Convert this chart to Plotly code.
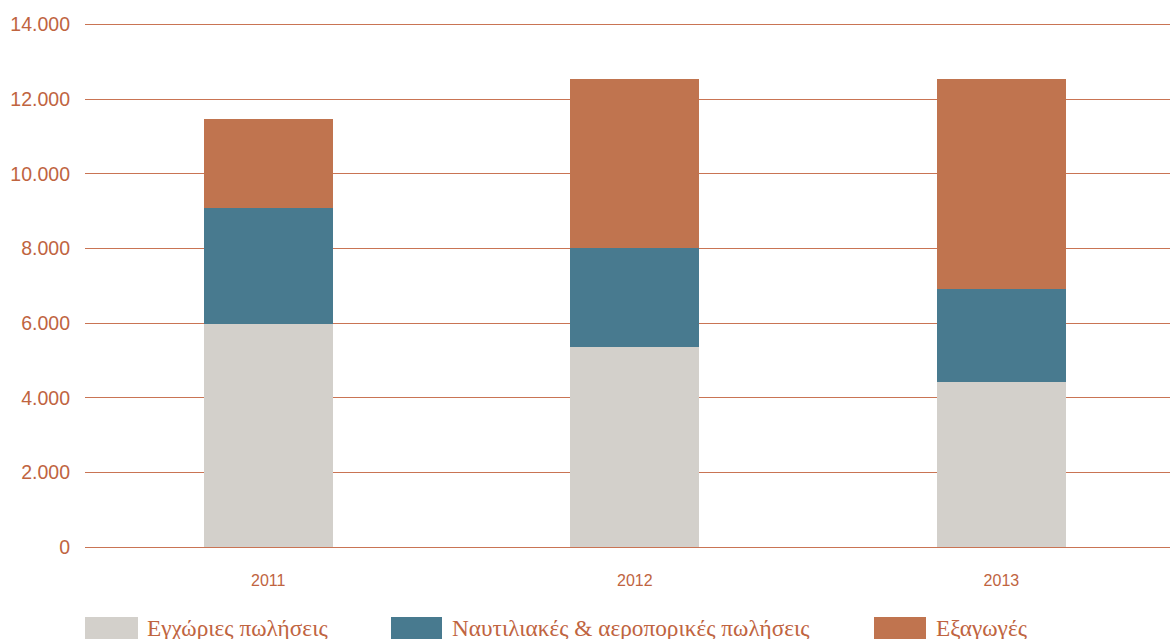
import plotly.graph_objects as go

# Sales breakdown by year (values in thousands)
years = ["2011", "2012", "2013"]
series_names = ["Εγχώριες πωλήσεις", "Ναυτιλιακές & αεροπορικές πωλήσεις", "Εξαγωγές"]
domestic = [5980, 5360, 4420]
marine_aviation = [3110, 2660, 2490]
exports = [2380, 4520, 5630]
y_ticks = [0, 2000, 4000, 6000, 8000, 10000, 12000, 14000]

colors = ["#d3d0cb", "#487a8f", "#c0744f"]
text_color = "#c0643f"
grid_color = "#c97454"

W, H = 1170, 639
M_L, M_R, M_T, M_B = 85, 0, 23, 92
plot_w = W - M_L - M_R
plot_h = H - M_T - M_B


def px_x(p):
    return (p - M_L) / plot_w


def px_y(p):
    return (H - M_B - p) / plot_h


fig = go.Figure()
for name, vals, col in zip(series_names, [domestic, marine_aviation, exports], colors):
    fig.add_trace(go.Bar(
        x=years, y=vals, name=name, marker=dict(color=col, line=dict(width=0)),
        width=0.352, showlegend=False, hoverinfo="x+y+name",
    ))

# Legend drawn as large swatches with serif captions beneath the plot
legend_items = [
    (85, 138, 148),
    (391, 442, 453),
    (874, 926, 937),
]
for (sx0, sx1, tx), name, col in zip(legend_items, series_names, colors):
    fig.add_shape(type="rect", xref="paper", yref="paper",
                  x0=px_x(sx0), x1=px_x(sx1), y0=px_y(617), y1=px_y(645),
                  fillcolor=col, line=dict(width=0), layer="above")
    fig.add_annotation(xref="paper", yref="paper", x=px_x(tx - 3), y=px_y(628),
                       xanchor="left", yanchor="middle", showarrow=False,
                       text=name,
                       font=dict(family="Liberation Serif", size=23.3, color=text_color))

fig.update_layout(
    width=W, height=H,
    margin=dict(l=M_L, r=M_R, t=M_T, b=M_B, autoexpand=False),
    barmode="stack",
    plot_bgcolor="white", paper_bgcolor="white",
    separators=",.",
    bargap=0,
    xaxis=dict(
        type="category", range=[-0.5, 2.46], showgrid=False, zeroline=False,
        showline=False, ticks="",
        tickfont=dict(family="Liberation Sans", size=16, color=text_color),
        ticklabelstandoff=22,
    ),
    yaxis=dict(
        range=[0, 14040], tickvals=y_ticks, tickformat=",.0f",
        showgrid=True, gridcolor=grid_color, gridwidth=1,
        zeroline=True, zerolinecolor=grid_color, zerolinewidth=1,
        showline=False, ticks="",
        tickfont=dict(family="Liberation Sans", size=19.5, color=text_color),
        ticklabelstandoff=14,
    ),
)

fig.write_html("out.html")
